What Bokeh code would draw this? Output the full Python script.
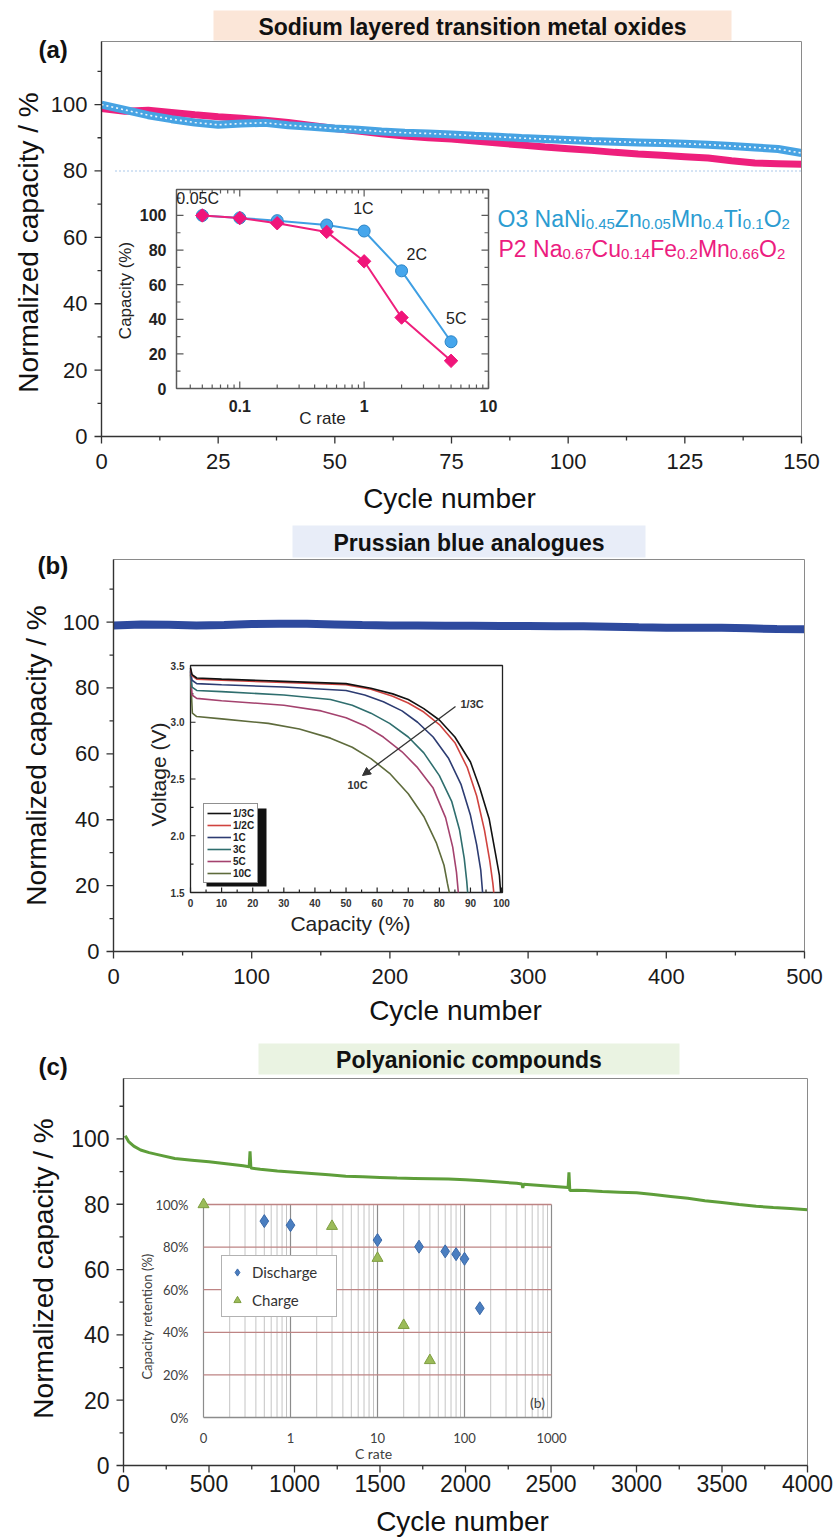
import math
from bokeh.plotting import figure
from bokeh.models import (Range1d, LogScale, Label, Legend, LegendItem, Arrow, NormalHead)
from bokeh.embed import file_html
from bokeh.resources import INLINE
from bokeh.core.properties import value

# ============================ DATA ============================
# (a) Sodium layered transition metal oxides
a_cycles = [0, 5, 10, 15, 20, 25, 30, 35, 40, 45, 50, 55, 60, 65, 70, 75,
            80, 85, 90, 95, 100, 105, 110, 115, 120, 125, 130, 135, 140, 145, 150]
a_o3_capacity = [100.0, 98.4, 96.8, 95.6, 94.6, 93.9, 94.3, 94.5, 93.8, 93.3,
                 92.8, 92.4, 91.9, 91.5, 91.3, 91.0, 90.6, 90.3, 89.9, 89.6,
                 89.3, 89.0, 88.8, 88.6, 88.4, 88.2, 87.9, 87.5, 87.1, 86.6, 85.4]
a_p2_capacity = [98.8, 98.0, 98.3, 97.6, 96.9, 96.3, 95.9, 95.3, 94.6, 93.7,
                 92.8, 92.0, 91.2, 90.5, 90.0, 89.6, 89.0, 88.4, 87.8, 87.2,
                 86.7, 86.2, 85.6, 85.1, 84.7, 84.3, 83.9, 83.1, 82.4, 82.2, 82.0]
a_reference_level = 80
a_rates = [0.05, 0.1, 0.2, 0.5, 1, 2, 5]
a_rate_o3 = [100.0, 98.6, 97.0, 94.5, 91.0, 68.0, 27.0]
a_rate_p2 = [100.0, 98.5, 95.5, 90.5, 73.5, 41.0, 16.0]
a_rate_tags = ["0.05C", "1C", "2C", "5C"]
a_rate_tag_rates = [0.05, 1, 2, 5]
a_rate_tag_values = [100.0, 91.0, 68.0, 27.0]
a_o3_formula = [("O3 NaNi", False), ("0.45", True), ("Zn", False), ("0.05", True),
                ("Mn", False), ("0.4", True), ("Ti", False), ("0.1", True),
                ("O", False), ("2", True)]
a_p2_formula = [("P2 Na", False), ("0.67", True), ("Cu", False), ("0.14", True),
                ("Fe", False), ("0.2", True), ("Mn", False), ("0.66", True),
                ("O", False), ("2", True)]

# (b) Prussian blue analogues
b_cycles = [0, 20, 40, 60, 80, 100, 120, 140, 160, 180, 200, 220, 240, 260,
            280, 300, 320, 340, 360, 380, 400, 420, 440, 460, 480, 500]
b_capacity = [99.0, 99.3, 99.2, 99.0, 99.1, 99.4, 99.5, 99.5, 99.3, 99.1,
              99.0, 99.0, 98.9, 98.9, 98.8, 98.8, 98.7, 98.7, 98.6, 98.4,
              98.3, 98.3, 98.3, 98.1, 97.9, 97.8]
b_rate_names = ["1/3C", "1/2C", "1C", "3C", "5C", "10C"]
b_cap_1_3C = [0, 0.5, 2, 10, 30, 50, 58, 65, 70, 75, 80, 85, 90, 93, 96, 98, 99.3, 99.7]
b_volt_1_3C = [3.48, 3.42, 3.39, 3.38, 3.36, 3.34, 3.30, 3.25, 3.20, 3.12, 3.02, 2.87,
               2.65, 2.42, 2.15, 1.85, 1.65, 1.50]
b_cap_1_2C = [0, 0.5, 2, 10, 30, 50, 58, 65, 70, 75, 80, 85, 89, 92, 94.5, 96.2, 97.2, 97.5]
b_volt_1_2C = [3.47, 3.41, 3.38, 3.37, 3.35, 3.33, 3.29, 3.23, 3.17, 3.09, 2.98, 2.82,
               2.60, 2.35, 2.05, 1.78, 1.58, 1.50]
b_cap_1C = [0, 0.5, 2, 10, 30, 50, 56, 62, 68, 73, 78, 83, 87, 90, 92, 93.3, 93.9]
b_volt_1C = [3.46, 3.37, 3.34, 3.33, 3.31, 3.28, 3.24, 3.18, 3.10, 3.00, 2.87, 2.68,
             2.45, 2.18, 1.92, 1.70, 1.50]
b_cap_3C = [0, 0.5, 2, 10, 30, 45, 52, 58, 64, 70, 75, 80, 84, 86.5, 88, 88.8, 89.1]
b_volt_3C = [3.45, 3.31, 3.28, 3.27, 3.24, 3.20, 3.15, 3.08, 2.99, 2.87, 2.73, 2.53,
             2.30, 2.05, 1.80, 1.60, 1.50]
b_cap_5C = [0, 0.5, 2, 10, 30, 42, 50, 56, 62, 68, 73, 78, 82, 84.3, 85.5, 86.1]
b_volt_5C = [3.44, 3.24, 3.21, 3.19, 3.15, 3.10, 3.04, 2.97, 2.87, 2.74, 2.60, 2.42,
             2.16, 1.90, 1.68, 1.50]
b_cap_10C = [0, 0.6, 2, 10, 25, 35, 45, 52, 58, 64, 70, 75, 79, 81.5, 82.6, 83.2]
b_volt_10C = [3.42, 3.08, 3.05, 3.03, 2.99, 2.94, 2.86, 2.78, 2.68, 2.55, 2.37, 2.17,
              1.94, 1.74, 1.58, 1.50]

# (c) Polyanionic compounds
c_cycles = [10, 30, 60, 100, 150, 200, 300, 400, 500, 600, 700, 735, 740, 745, 800,
            900, 1000, 1100, 1200, 1300, 1400, 1500, 1600, 1700, 1800, 1900, 2000,
            2100, 2200, 2300, 2330, 2335, 2340, 2400, 2500, 2600, 2605, 2610, 2650,
            2700, 2800, 2900, 3000, 3100, 3200, 3300, 3400, 3500, 3600, 3700, 3800,
            3900, 4000]
c_capacity = [101.0, 99.2, 97.8, 96.6, 95.8, 95.2, 94.0, 93.5, 93.0, 92.4, 91.8, 91.5,
              96.2, 91.1, 90.7, 90.2, 89.8, 89.4, 89.0, 88.6, 88.4, 88.2, 88.0, 87.9,
              87.8, 87.7, 87.5, 87.2, 86.8, 86.4, 86.2, 85.0, 86.1, 85.9, 85.5, 85.1,
              89.8, 84.2, 84.3, 84.2, 83.9, 83.7, 83.5, 83.0, 82.4, 81.8, 81.1, 80.5,
              79.9, 79.4, 79.0, 78.7, 78.3]
c_dis_rates = [0.5, 1, 10, 30, 60, 80, 100, 150]
c_dis_retention = [92.2, 90.3, 83.3, 80.2, 78.0, 76.7, 74.5, 51.3]
c_chg_rates = [0.1, 3, 10, 20, 40]
c_chg_retention = [100.0, 89.8, 74.8, 43.3, 26.8]

# tick values / labels
a_xticks = [0, 25, 50, 75, 100, 125, 150]
a_xminor = [12.5, 37.5, 62.5, 87.5, 112.5, 137.5]
b_xticks = [0, 100, 200, 300, 400, 500]
b_xminor = [50, 150, 250, 350, 450]
c_xticks = [0, 500, 1000, 1500, 2000, 2500, 3000, 3500, 4000]
c_xminor = [250, 750, 1250, 1750, 2250, 2750, 3250, 3750]
main_yticks = [0, 20, 40, 60, 80, 100]
main_yminor = [10, 30, 50, 70, 90, 110]
a_inset_xticks = [0.1, 1, 10]
a_inset_xlabels = ["0.1", "1", "10"]
a_inset_xminor = [0.04, 0.05, 0.06, 0.07, 0.08, 0.09, 0.2, 0.3, 0.4, 0.5, 0.6, 0.7,
                  0.8, 0.9, 2, 3, 4, 5, 6, 7, 8, 9]
a_inset_yticks = [0, 20, 40, 60, 80, 100]
a_inset_yminor = [10, 30, 50, 70, 90, 110]
b_inset_xticks = [0, 10, 20, 30, 40, 50, 60, 70, 80, 90, 100]
b_inset_xminor = [5, 15, 25, 35, 45, 55, 65, 75, 85, 95]
b_inset_yticks = [1.5, 2.0, 2.5, 3.0, 3.5]
b_inset_ylabels = ["1.5", "2.0", "2.5", "3.0", "3.5"]
b_inset_yminor = [1.75, 2.25, 2.75, 3.25]
c_inset_xticks = [0.1, 1, 10, 100, 1000]
c_inset_xlabels = ["0", "1", "10", "100", "1000"]
c_inset_yticks = [0, 20, 40, 60, 80, 100]
c_inset_ylabels = ["0%", "20%", "40%", "60%", "80%", "100%"]

# ============================ CANVAS ============================
WID, HGT = 835, 1538
FONT = "Liberation Sans"

p = figure(width=WID, height=HGT, x_range=Range1d(0, WID), y_range=Range1d(0, HGT),
           x_axis_type=None, y_axis_type=None, min_border=0,
           output_backend="svg", toolbar_location=None)
p.outline_line_color = None
p.background_fill_color = "white"
p.border_fill_color = "white"

xr_extra, yr_extra, xs_extra = {}, {}, {}


def space(name, box, xdom, ydom, logx=False):
    """Map a panel's data domain onto its pixel box of the page."""
    il, it, ir, ib = box
    x0, x1 = (math.log10(xdom[0]), math.log10(xdom[1])) if logx else xdom
    kx = (x1 - x0) / (ir - il)
    lo, hi = x0 - il * kx, x1 + (WID - ir) * kx
    if logx:
        lo, hi = 10 ** lo, 10 ** hi
        xs_extra[name] = LogScale()
    ky = (ydom[1] - ydom[0]) / (ib - it)
    xr_extra[name] = Range1d(lo, hi)
    yr_extra[name] = Range1d(ydom[0] - (HGT - ib) * ky, ydom[1] + it * ky)
    return dict(x_range_name=name, y_range_name=name)


def label(X, Y, text, size, color="#111111", bold=False, align="center",
          baseline="middle", angle=0.0, font=FONT):
    p.add_layout(Label(x=X, y=HGT - Y, text=text, text_font=font,
                       text_font_size=f"{size}px",
                       text_font_style="bold" if bold else "normal",
                       text_color=color, text_align=align, text_baseline=baseline,
                       angle=angle))


def rect(X0, Y0, X1, Y1, fill, line=None, lw=1.0):
    p.quad(left=[X0], right=[X1], top=[HGT - Y0], bottom=[HGT - Y1],
           fill_color=fill, line_color=line, line_width=lw)


def title_box(box, text, fill):
    X0, Y0, X1, Y1 = box
    rect(X0, Y0, X1, Y1, fill)
    label((X0 + X1) / 2, (Y0 + Y1) / 2 + 1, text, 23, bold=True)


def main_axes(kw, xdom, ydom, xt, xm, font_px, xoff, yoff):
    p.quad(left=[xdom[0]], right=[xdom[1]], bottom=[ydom[0]], top=[ydom[1]],
           fill_color=None, line_color="#8a8a8a", line_width=1, **kw)
    p.segment(x0=[xdom[0], xdom[0]], y0=[ydom[0], ydom[0]],
              x1=[xdom[0], xdom[1]], y1=[ydom[1], ydom[0]],
              line_color="#333333", line_width=1.4, **kw)
    rk = dict(length_units="screen", line_color="#333333", line_width=1.3, **kw)
    p.ray(x=xt, y=[ydom[0]] * len(xt), length=7, angle=-math.pi / 2, **rk)
    p.ray(x=xm, y=[ydom[0]] * len(xm), length=4, angle=-math.pi / 2, **rk)
    p.ray(x=[xdom[0]] * len(main_yticks), y=main_yticks, length=7, angle=math.pi, **rk)
    p.ray(x=[xdom[0]] * len(main_yminor), y=main_yminor, length=4, angle=math.pi, **rk)
    tk = dict(text_font=value(FONT), text_font_size=f"{font_px}px",
              text_color="#1a1a1a", text_baseline="middle", **kw)
    p.text(x=xt, y=[ydom[0]] * len(xt), text=[str(v) for v in xt], y_offset=xoff,
           text_align="center", **tk)
    p.text(x=[xdom[0]] * len(main_yticks), y=main_yticks,
           text=[str(v) for v in main_yticks], x_offset=-yoff, text_align="right", **tk)


def inset_ticks(kw, xdom, ydom, xmaj, xmin, ymaj, ymin, lmaj, lmin, color, mirror):
    rk = dict(length_units="screen", line_color=color, line_width=1.2, **kw)
    for xs, L in ((xmaj, lmaj), (xmin, lmin)):
        p.ray(x=xs, y=[ydom[0]] * len(xs), length=L, angle=math.pi / 2, **rk)
        if mirror:
            p.ray(x=xs, y=[ydom[1]] * len(xs), length=L, angle=-math.pi / 2, **rk)
    for ys, L in ((ymaj, lmaj), (ymin, lmin)):
        p.ray(x=[xdom[0]] * len(ys), y=ys, length=L, angle=0, **rk)
        if mirror:
            p.ray(x=[xdom[1]] * len(ys), y=ys, length=L, angle=math.pi, **rk)


ARIAL = {'0': 556, '1': 556, '2': 556, '3': 556, '4': 556, '5': 556, '6': 556,
         '7': 556, '8': 556, '9': 556, '.': 278, ' ': 278, 'N': 722, 'a': 556,
         'i': 222, 'Z': 611, 'n': 556, 'M': 833, 'T': 611, 'O': 778, 'P': 667,
         'C': 722, 'u': 556, 'F': 611, 'e': 556}


def formula(X0, Yb, segs, color, fmain=23, fsub=15):
    x = X0
    for txt, sub in segs:
        f = fsub if sub else fmain
        label(x, Yb + (5 if sub else 0), txt, f, color=color, align="left",
              baseline="alphabetic")
        x += sum(ARIAL[ch] for ch in txt) / 1000.0 * f


# ============================ PANEL (a) ============================
A_XDOM, A_YDOM = (0, 150), (0, 119)
ka = space("a", (101, 41, 801, 436), A_XDOM, A_YDOM)
p.segment(x0=[3], y0=[a_reference_level], x1=[A_XDOM[1]], y1=[a_reference_level],
          line_color="#8DB4E2", line_dash="1 3", line_width=1.5, **ka)
p.line(a_cycles, a_p2_capacity, line_color="#EE1F7C", line_width=7, **ka)
p.line(a_cycles, a_o3_capacity, line_color="#47A3E3", line_width=8, **ka)
p.line(a_cycles, a_o3_capacity, line_color="white", line_width=1.6,
       line_dash="2 3", line_alpha=0.9, **ka)
main_axes(ka, A_XDOM, A_YDOM, a_xticks, a_xminor, 22, 25, 14)

AI_XDOM, AI_YDOM = (0.031, 10), (0, 115)
kai = space("ai", (176, 189, 488, 388), AI_XDOM, AI_YDOM, logx=True)
p.quad(left=[AI_XDOM[0]], right=[AI_XDOM[1]], bottom=[AI_YDOM[0]], top=[AI_YDOM[1]],
       fill_color="white", line_color="#5a5a5a", line_width=1.5, **kai)
inset_ticks(kai, AI_XDOM, AI_YDOM, a_inset_xticks, a_inset_xminor, a_inset_yticks,
            a_inset_yminor, 7, 4, "#5a5a5a", True)
p.line(a_rates, a_rate_o3, line_color="#3F9FE3", line_width=2, **kai)
p.scatter(a_rates, a_rate_o3, marker="circle", size=12, fill_color="#46A6EC",
          line_color="#2A84C7", **kai)
p.line(a_rates, a_rate_p2, line_color="#EE1F7C", line_width=2, **kai)
p.scatter(a_rates, a_rate_p2, marker="square", angle=math.pi / 4, size=9.5,
          fill_color="#F0157A", line_color="#F0157A", **kai)
p.text(x=a_rate_tag_rates, y=a_rate_tag_values, text=a_rate_tags,
       x_offset=[-26, -11, 5, -5], y_offset=[-17, -23, -16, -23],
       text_align="left", text_baseline="middle", text_font=value(FONT),
       text_font_size="16px", text_color="#222222", **kai)
p.text(x=a_inset_xticks, y=[AI_YDOM[0]] * 3, text=a_inset_xlabels, y_offset=17,
       text_align="center", text_baseline="middle", text_font=value(FONT),
       text_font_style="bold", text_font_size="16px", text_color="#222222", **kai)
p.text(x=[AI_XDOM[0]] * 6, y=a_inset_yticks, text=[str(v) for v in a_inset_yticks],
       x_offset=-10, text_align="right", text_baseline="middle", text_font=value(FONT),
       text_font_style="bold", text_font_size="16px", text_color="#222222", **kai)
label(322, 418, "C rate", 17, color="#222222")
label(125, 290, "Capacity (%)", 17, color="#222222", angle=math.pi / 2)
formula(497, 218, a_o3_formula, "#2B9CD1")
formula(498, 248, a_p2_formula, "#EC1C7F")
title_box((213, 10, 731, 40), "Sodium layered transition metal oxides", "#FBE6D8")
label(38, 49, "(a)", 24, bold=True, align="left")
label(449, 498, "Cycle number", 28)
label(28, 242, "Normalized capacity / %", 28, angle=math.pi / 2)

# ============================ PANEL (b) ============================
B_XDOM, B_YDOM = (0, 500), (0, 119)
kb = space("b", (113, 559, 804, 951), B_XDOM, B_YDOM)
p.line(b_cycles, b_capacity, line_color="#2E4A9E", line_width=8, **kb)
main_axes(kb, B_XDOM, B_YDOM, b_xticks, b_xminor, 22, 25, 14)

BI_XDOM, BI_YDOM = (0, 100.3), (1.5, 3.5)
kbi = space("bi", (190, 665, 502, 892), BI_XDOM, BI_YDOM)
p.quad(left=[BI_XDOM[0]], right=[BI_XDOM[1]], bottom=[BI_YDOM[0]], top=[BI_YDOM[1]],
       fill_color="white", line_color="#222222", line_width=1.3, **kbi)
inset_ticks(kbi, BI_XDOM, BI_YDOM, b_inset_xticks, b_inset_xminor, b_inset_yticks,
            b_inset_yminor, 5, 3, "#222222", False)
b_colors = ["#111111", "#D0433F", "#2D3C72", "#2F6E6E", "#A4426E", "#5E6B3C"]
b_caps = [b_cap_1_3C, b_cap_1_2C, b_cap_1C, b_cap_3C, b_cap_5C, b_cap_10C]
b_volts = [b_volt_1_3C, b_volt_1_2C, b_volt_1C, b_volt_3C, b_volt_5C, b_volt_10C]
b_renderers = []
for cap, vol, col in zip(b_caps[::-1], b_volts[::-1], b_colors[::-1]):
    b_renderers.append(p.line(cap, vol, line_color=col, line_width=1.6, **kbi))
b_renderers = b_renderers[::-1]
p.text(x=b_inset_xticks, y=[BI_YDOM[0]] * len(b_inset_xticks),
       text=[str(v) for v in b_inset_xticks], y_offset=10, text_align="center",
       text_baseline="middle", text_font=value(FONT), text_font_style="bold",
       text_font_size="10px", text_color="#333333", **kbi)
p.text(x=[BI_XDOM[0]] * 5, y=b_inset_yticks, text=b_inset_ylabels,
       x_offset=-6, text_align="right", text_baseline="middle", text_font=value(FONT),
       text_font_style="bold", text_font_size="10px", text_color="#333333", **kbi)
rect(206, 808, 266, 886, "#111111")
leg_b = Legend(items=[LegendItem(label=n, renderers=[r])
                      for n, r in zip(b_rate_names, b_renderers)],
               location=(203, HGT - 883), label_text_font=FONT,
               label_text_font_size="10px", label_text_font_style="bold",
               label_text_color="#222222", glyph_width=24, glyph_height=12,
               label_height=12, label_standoff=2, spacing=0, padding=3, margin=0,
               border_line_color="#222222", border_line_width=1.2,
               background_fill_color="white", background_fill_alpha=1.0)
p.add_layout(leg_b)
p.add_layout(Arrow(x_start=455, y_start=HGT - 706, x_end=362, y_end=HGT - 775,
                   line_color="#333333", line_width=1.3,
                   end=NormalHead(size=8, fill_color="#333333", line_color="#333333")))
label(460, 703, "1/3C", 11, color="#333333", bold=True, align="left")
label(357, 784, "10C", 11, color="#333333", bold=True)
label(350, 923, "Capacity (%)", 21, color="#222222")
label(158, 774, "Voltage (V)", 21, color="#222222", angle=math.pi / 2)
title_box((292, 525, 645, 557), "Prussian blue analogues", "#E8EDF8")
label(37, 565, "(b)", 24, bold=True, align="left")
label(455, 1010, "Cycle number", 28)
label(36, 755, "Normalized capacity / %", 28, angle=math.pi / 2)

# ============================ PANEL (c) ============================
C_XDOM, C_YDOM = (0, 4000), (0, 118.5)
kc = space("c", (123, 1078, 807, 1465), C_XDOM, C_YDOM)
p.line(c_cycles, c_capacity, line_color="#5E9E3A", line_width=3, **kc)
main_axes(kc, C_XDOM, C_YDOM, c_xticks, c_xminor, 23, 18, 14)

CI_XDOM, CI_YDOM = (0.1, 1000), (0, 100)
kci = space("ci", (203, 1204, 551, 1417), CI_XDOM, CI_YDOM, logx=True)
p.quad(left=[CI_XDOM[0]], right=[CI_XDOM[1]], bottom=[CI_YDOM[0]], top=[CI_YDOM[1]],
       fill_color="white", line_color=None, **kci)
c_grid_minor = [d * m for d in (0.1, 1, 10, 100) for m in range(2, 10)]
p.segment(x0=c_grid_minor, y0=[0] * len(c_grid_minor), x1=c_grid_minor,
          y1=[100] * len(c_grid_minor), line_color="#C4C4C4", line_width=1, **kci)
p.segment(x0=c_inset_xticks, y0=[0] * 5, x1=c_inset_xticks, y1=[100] * 5,
          line_color="#8C8C8C", line_width=1.2, **kci)
c_hgrid = [20, 40, 60, 80, 100]
p.segment(x0=[0.1] * 5, y0=c_hgrid, x1=[1000] * 5, y1=c_hgrid,
          line_color="#BE8484", line_width=1.3, **kci)
p.segment(x0=[0.1], y0=[0], x1=[1000], y1=[0], line_color="#8C8C8C", line_width=1.3, **kci)
r_dis = p.scatter(c_dis_rates, c_dis_retention, marker="diamond", size=13,
                  fill_color="#4A7EC0", line_color="#3A68A8", **kci)
r_chg = p.scatter(c_chg_rates, c_chg_retention, marker="triangle", size=11,
                  fill_color="#9BBB59", line_color="#7E9E40", **kci)
p.text(x=c_inset_xticks, y=[0] * 5, text=c_inset_xlabels, y_offset=20,
       text_align="center", text_baseline="middle", text_font=value("Lato"),
       text_font_size="13px", text_color="#404040", **kci)
p.text(x=[0.1] * 6, y=c_inset_yticks, text=c_inset_ylabels, x_offset=-15,
       text_align="right", text_baseline="middle", text_font=value("Lato"),
       text_font_size="13px", text_color="#404040", **kci)
leg_c = Legend(items=[LegendItem(label="Discharge", renderers=[r_dis]),
                      LegendItem(label="Charge", renderers=[r_chg])],
               location=(221, HGT - 1317), label_text_font="Lato",
               label_text_font_size="15px", label_text_color="#333333",
               glyph_width=18, glyph_height=20, label_height=20, label_width=78,
               label_standoff=6, spacing=8, padding=6, margin=0,
               border_line_color="#666666", border_line_width=1,
               background_fill_color="white", background_fill_alpha=1.0)
p.add_layout(leg_c)
label(373, 1453, "C rate", 14, color="#404040", font="Lato")
label(146, 1316, "Capacity retention (%)", 13, color="#404040", font="Lato",
      angle=math.pi / 2)
label(537, 1402, "(b)", 14, color="#404040", font="Lato")
title_box((258, 1043, 679, 1074), "Polyanionic compounds", "#EAF3E2")
label(38, 1066, "(c)", 24, bold=True, align="left")
label(462, 1521, "Cycle number", 28)
label(43, 1268, "Normalized capacity / %", 28, angle=math.pi / 2)

p.extra_x_ranges = xr_extra
p.extra_y_ranges = yr_extra
p.extra_x_scales = xs_extra

open("out.html", "w").write(file_html(p, INLINE))
